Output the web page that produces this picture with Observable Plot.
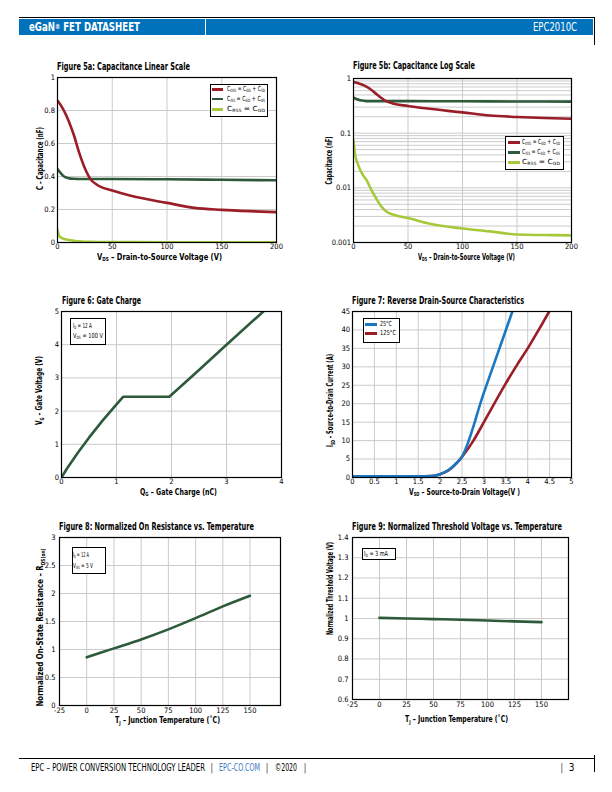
<!DOCTYPE html>
<html><head><meta charset="utf-8">
<script src="https://cdn.jsdelivr.net/npm/d3@7"></script>
<script src="https://cdn.jsdelivr.net/npm/@observablehq/plot@0.6"></script>
<style>
body{margin:0;background:#fff;}
#page{position:relative;width:612px;height:792px;overflow:hidden;background:#fff;}
.sb{font-size:0.62em;position:relative;top:0.28em;}
.box{position:absolute;border:1px solid #000;background:#fff;box-sizing:border-box;}
.sw{position:absolute;height:3px;}
.ln{position:absolute;background:#000;}
</style></head>
<body><div id="page"></div>
<script>
// ---------------- data ----------------
// Figure 5a/5b capacitance vs VDS (nF)
const cossV = [0, 5, 10, 15, 20, 25, 30, 36, 50, 66, 100, 125, 150, 175, 200];
const cossC = [0.86, 0.81, 0.74, 0.65, 0.54, 0.45, 0.385, 0.35, 0.315, 0.285, 0.24, 0.21, 0.198, 0.19, 0.184];
const cissV = [0, 3, 6, 10, 15, 20, 50, 100, 150, 200];
const cissC = [0.445, 0.42, 0.40, 0.39, 0.386, 0.385, 0.385, 0.383, 0.38, 0.377];
const crssV = [0, 0.5, 1.5, 3, 5, 8, 12, 16, 20, 25, 30, 40, 50, 70, 100, 125, 150, 175, 200];
const crssC = [0.075, 0.06, 0.04, 0.031, 0.024, 0.018, 0.0138, 0.0095, 0.0068, 0.0047, 0.0037, 0.0031, 0.0028, 0.0022, 0.0018, 0.0016, 0.0014, 0.00137, 0.00135];
const capXTicks = [0, 50, 100, 150, 200];
const capLinYTicks = [0, 0.2, 0.4, 0.6, 0.8, 1];
const capLogYTicks = [0.001, 0.01, 0.1, 1];
const capLegend = ["C<span class='sb'>OSS</span> = C<span class='sb'>GD</span> + C<span class='sb'>SD</span>",
                   "C<span class='sb'>ISS</span> = C<span class='sb'>GD</span> + C<span class='sb'>GS</span>",
                   "C<span class='sb'>RSS</span> = C<span class='sb'>GD</span>"];
// Figure 6 gate charge
const gateQ = [0, 0.1, 0.3, 0.5, 0.75, 1.0, 1.12, 1.96, 2.5, 3.0, 3.67];
const gateV = [0, 0.27, 0.75, 1.2, 1.72, 2.2, 2.43, 2.43, 3.24, 4.0, 5.0];
const gateXTicks = [0, 1, 2, 3, 4];
const gateYTicks = [0, 1, 2, 3, 4, 5];
// Figure 7 reverse drain-source
const sd25V = [0, 0.5, 1, 1.5, 1.8, 2.0, 2.2, 2.4, 2.47, 3.0, 3.65];
const sd25I = [0.3, 0.3, 0.3, 0.3, 0.4, 0.9, 2.1, 4.2, 5.1, 23, 45];
const sd125V = [0, 0.5, 1, 1.5, 1.8, 2.0, 2.2, 2.4, 2.5, 2.75, 3.0, 3.25, 3.5, 3.75, 4.0, 4.25, 4.5];
const sd125I = [0.3, 0.3, 0.3, 0.3, 0.4, 0.9, 2.0, 4.2, 5.6, 9.8, 15, 20.3, 25.5, 30.4, 35, 40, 45.2];
const sdXTicks = [0, 0.5, 1, 1.5, 2, 2.5, 3, 3.5, 4, 4.5, 5];
const sdYTicks = [0, 5, 10, 15, 20, 25, 30, 35, 40, 45];
const sdLegend = ["25°C", "125°C"];
// Figures 8 & 9 vs temperature
const tempT = [0, 25, 50, 75, 100, 125, 150];
const rdsOn = [0.86, 1.02, 1.18, 1.36, 1.56, 1.77, 1.96];
const vthN = [1.003, 1.0, 0.997, 0.994, 0.99, 0.986, 0.982];
const tempXTicks = [-25, 0, 25, 50, 75, 100, 125, 150];
const rdsYTicks = [0, 0.5, 1, 1.5, 2, 2.5, 3];
const vthYTicks = [0.6, 0.7, 0.8, 0.9, 1, 1.1, 1.2, 1.3, 1.4];

const RED = "#9b1d27", DKG = "#2e5a3c", LTG = "#a6c93c", BLUE = "#1a78c2";
const FONT = '"Liberation Sans Narrow","DejaVu Sans Condensed","Roboto Condensed","Liberation Sans",sans-serif';
const page = document.getElementById("page");
const tbl = (xs, ys) => xs.map((x, i) => ({x, y: ys[i]}));

function chart(f, o) {
  const mL = 34, mR = 8, mT = 8, mB = 16;
  const svg = Plot.plot({
    width: f.x1 - f.x0 + mL + mR, height: f.y1 - f.y0 + mT + mB,
    marginLeft: mL, marginRight: mR, marginTop: mT, marginBottom: mB,
    x: {domain: o.xd, type: o.xt || "linear"},
    y: {domain: o.yd, type: o.yt || "linear"},
    style: {fontFamily: FONT, fontSize: "7.5px", background: "transparent", color: "#000", overflow: "visible"},
    marks: [
      Plot.gridX(o.gx, {stroke: "#cbcbcb", strokeOpacity: 1, strokeWidth: 1}),
      Plot.gridY(o.gy, {stroke: "#cbcbcb", strokeOpacity: 1, strokeWidth: 1}),
      ...o.marks,
      Plot.frame({stroke: "#000", strokeWidth: 1.2}),
      Plot.axisX(o.xticks, {tickSize: 0, tickPadding: o.xp ?? 1.5, label: null, tickFormat: String}),
      Plot.axisY(o.yticks, {tickSize: 0, tickPadding: o.yp ?? 2.5, label: null, tickFormat: String})
    ]
  });
  Object.assign(svg.style, {position: "absolute", left: (f.x0 - mL) + "px", top: (f.y0 - mT) + "px", maxWidth: "none"});
  page.appendChild(svg);
}
const L = (xs, ys, c, extra = {}) => Plot.line(tbl(xs, ys), {x: "x", y: "y", stroke: c, strokeWidth: 2.6, clip: true, ...extra});

// text helper
function T(html, o) {
  const el = document.createElement("div");
  el.innerHTML = html;
  Object.assign(el.style, {position: "absolute", left: "0px", top: "0px", whiteSpace: "nowrap", lineHeight: "1",
    fontSize: (o.s || 8) + "px", fontWeight: o.b ? "bold" : "normal", color: o.c || "#000", fontFamily: FONT});
  page.appendChild(el);
  const r = el.getBoundingClientRect();
  const w = r.width, h = r.height;
  const sx = o.w ? o.w / w : 1;
  if (o.r) {
    el.style.left = (o.x - w / 2) + "px"; el.style.top = (o.y - h / 2) + "px";
    el.style.transformOrigin = "50% 50%";
    el.style.transform = `rotate(-90deg) scale(${sx},1)`;
  } else {
    const a = o.a === "middle" ? 0.5 : o.a === "end" ? 1 : 0;
    el.style.transformOrigin = "0 50%";
    el.style.left = (o.x - a * w * sx) + "px"; el.style.top = (o.y - h / 2) + "px";
    el.style.transform = `scale(${sx},1)`;
  }
  return el;
}
function D(cls, x, y, w, h, bg) {
  const el = document.createElement("div");
  el.className = cls;
  Object.assign(el.style, {left: x + "px", top: y + "px", width: w + "px", height: h + "px"});
  if (bg) el.style.background = bg;
  page.appendChild(el);
  return el;
}

// log minor grid positions
const logGrid = [];
for (let e = -3; e < 0; e++) for (let m = 1; m < 10; m++) logGrid.push(m * Math.pow(10, e));

// ---------------- charts ----------------
// 5a
chart({x0: 57, x1: 276, y0: 77, y1: 242}, {
  xd: [0, 200], yd: [0, 1], gx: [50, 100, 150], gy: [0.2, 0.4, 0.6, 0.8],
  xticks: capXTicks, yticks: capLinYTicks,
  marks: [L(crssV, crssC, LTG, {curve: "monotone-x"}), L(cissV, cissC, DKG, {curve: "monotone-x"}), L(cossV, cossC, RED, {curve: "monotone-x"})]
});
// 5b
chart({x0: 353, x1: 571, y0: 78, y1: 242}, {
  xd: [0, 200], yd: [0.001, 1], yt: "log", gx: [50, 100, 150], gy: logGrid,
  xticks: capXTicks, yticks: capLogYTicks,
  marks: [L(crssV, crssC, LTG, {curve: "monotone-x"}), L(cissV, cissC, DKG, {curve: "monotone-x"}), L(cossV, cossC, RED, {curve: "monotone-x"})]
});
// 6
chart({x0: 61, x1: 281, y0: 311, y1: 477}, {
  xd: [0, 4], yd: [0, 5], gx: [1, 2, 3], gy: [1, 2, 3, 4],
  xticks: gateXTicks, yticks: gateYTicks,
  marks: [L(gateQ, gateV, DKG)]
});
// 7
chart({x0: 352, x1: 571, y0: 311, y1: 477}, {
  xd: [0, 5], yd: [0, 45], gx: sdXTicks.slice(1, -1), gy: sdYTicks.slice(1),
  xticks: sdXTicks, yticks: sdYTicks,
  marks: [L(sd125V, sd125I, RED, {curve: "monotone-x"}), L(sd25V, sd25I, BLUE, {curve: "monotone-x"})]
});
// 8
chart({x0: 59, x1: 280, y0: 537, y1: 705}, {
  xd: [-25, 178], yd: [0, 3], gx: tempXTicks.slice(1), gy: rdsYTicks.slice(1, -1),
  xticks: tempXTicks, yticks: rdsYTicks, xp: 2.5, yp: 4,
  marks: [L(tempT, rdsOn, DKG, {curve: "monotone-x"})]
});
// 9
chart({x0: 352, x1: 568, y0: 537, y1: 699}, {
  xd: [-25, 175], yd: [0.6, 1.4], gx: tempXTicks.slice(1), gy: vthYTicks.slice(1, -1),
  xticks: tempXTicks, yticks: vthYTicks, xp: 2.5, yp: 4,
  marks: [L(tempT, vthN, DKG, {curve: "monotone-x"})]
});

// ---------------- page furniture ----------------
D("ln", 19, 17, 576, 1);
D("ln", 19, 19, 574, 15.5, "#0071bb");
D("ln", 205, 19, 1, 15.5, "#fff");
D("ln", 594, 17, 1, 28);
T("eGaN<sup style='font-size:0.6em;vertical-align:0.3em;line-height:0'>®</sup> FET DATASHEET", {x: 29, y: 26.5, w: 111, s: 12, b: 1, c: "#fff"});
T("EPC2010C", {x: 533, y: 27, w: 44, s: 12, c: "#fff"});

D("ln", 19, 758, 576, 1);
D("ln", 594, 755, 1, 17);
T("EPC – POWER CONVERSION TECHNOLOGY LEADER", {x: 31, y: 767.5, w: 174, s: 10});
T("|", {x: 211.7, y: 768, s: 10, a: "middle", c: "#555"});
T("EPC-CO.COM", {x: 219, y: 767.5, w: 41, s: 10, c: "#3d7cc0"});
T("|", {x: 267, y: 768, s: 10, a: "middle", c: "#555"});
T("©2020", {x: 275, y: 767.5, w: 22, s: 10});
T("|", {x: 305, y: 768, s: 10, a: "middle", c: "#555"});
T("|", {x: 561.7, y: 768, s: 10, a: "middle", c: "#555"});
T("3", {x: 571.7, y: 767.5, s: 10, a: "middle"});

// titles
T("Figure 5a: Capacitance Linear Scale", {x: 57, y: 66.7, w: 133, s: 11, b: 1});
T("Figure 5b: Capacitance Log Scale", {x: 353, y: 65.7, w: 122, s: 11, b: 1});
T("Figure 6: Gate Charge", {x: 61.7, y: 300, w: 79, s: 11, b: 1});
T("Figure 7: Reverse Drain-Source Characteristics", {x: 352.3, y: 300.7, w: 172, s: 11, b: 1});
T("Figure 8: Normalized On Resistance vs. Temperature", {x: 59.3, y: 526.7, w: 195, s: 11, b: 1});
T("Figure 9: Normalized Threshold Voltage vs. Temperature", {x: 352.3, y: 526.7, w: 210, s: 11, b: 1});

// axis labels
T("C – Capacitance (nF)", {x: 40, y: 158, w: 63, s: 9, b: 1, r: 1});
T("V<span class='sb'>DS</span> – Drain-to-Source Voltage (V)", {x: 159.5, y: 257, w: 125, s: 9, b: 1, a: "middle"});
T("Capacitance (nF)", {x: 330, y: 160, w: 48, s: 9, b: 1, r: 1});
T("V<span class='sb'>DS</span> – Drain-to-Source Voltage (V)", {x: 466, y: 257, w: 97, s: 9, b: 1, a: "middle"});
T("V<span class='sb'>G</span> – Gate Voltage (V)", {x: 40, y: 390, w: 69, s: 9, b: 1, r: 1});
T("Q<span class='sb'>G</span> – Gate Charge (nC)", {x: 178, y: 492, w: 77, s: 9, b: 1, a: "middle"});
T("I<span class='sb'>SD</span> – Source-to-Drain Current (A)", {x: 330, y: 400, w: 93, s: 9, b: 1, r: 1});
T("V<span class='sb'>SD</span> – Source-to-Drain Voltage(V )", {x: 464.5, y: 492, w: 111, s: 9, b: 1, a: "middle"});
T("Normalized On-State Resistance – R<span class='sb'>DS(on)</span>", {x: 40, y: 627, w: 158, s: 9, b: 1, r: 1});
T("T<span class='sb'>J</span> – Junction Temperature (˚C)", {x: 167.5, y: 720.5, w: 105, s: 9, b: 1, a: "middle"});
T("Normalized Threshold Voltage (V)", {x: 330, y: 588, w: 93, s: 9, b: 1, r: 1});
T("T<span class='sb'>J</span> – Junction Temperature (˚C)", {x: 456.5, y: 719.5, w: 103, s: 9, b: 1, a: "middle"});

// legends & annotations
const capColors = [RED, DKG, LTG];
D("box", 210, 84, 58, 33);
capLegend.forEach((t, i) => {
  D("sw", 211.7, [89.3, 99.3, 109.3][i] - (i === 1 ? 1 : 1.5), 11.5, i === 1 ? 2 : 3, capColors[i]);
  T(t, {x: 226.7, y: [89.3, 99.3, 109.3][i], w: 38, s: 7});
});
D("box", 505, 136, 59, 34);
capLegend.forEach((t, i) => {
  D("sw", 508, [142.7, 152.7, 162.3][i] - 1.5, 12, 3, capColors[i]);
  T(t, {x: 521.7, y: [142.7, 152.7, 162.3][i], w: 38, s: 7});
});
D("box", 70, 318, 36, 27);
T("I<span class='sb'>D</span> = 12 A", {x: 72.7, y: 326.7, w: 19, s: 7});
T("V<span class='sb'>DS</span> = 100 V", {x: 72.7, y: 336.7, w: 30, s: 7});
D("box", 363, 318, 37, 25);
const sdColors = [BLUE, RED];
sdLegend.forEach((t, i) => {
  D("sw", 365, [324, 333.3][i] - 1.5, 12, 3, sdColors[i]);
  T(t, {x: 380, y: [324, 333.3][i], w: [11.7, 16][i], s: 7});
});
D("box", 72, 547, 34, 27);
T("I<span class='sb'>D</span> = 12 A", {x: 73.3, y: 555, w: 16, s: 7});
T("V<span class='sb'>GS</span> = 5 V", {x: 73.3, y: 566.7, w: 20, s: 7});
D("box", 362, 548, 34, 12);
T("I<span class='sb'>D</span> = 3 mA", {x: 364, y: 554, w: 24, s: 7});
</script></body></html>
